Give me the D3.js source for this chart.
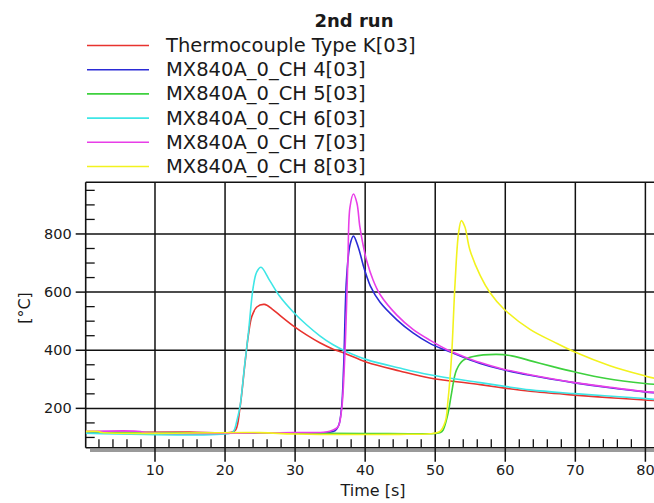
<!DOCTYPE html>
<html>
<head>
<meta charset="utf-8">
<script src="https://cdn.jsdelivr.net/npm/d3@7"></script>
<style>
  html, body { margin: 0; padding: 0; background: #fff; }
  svg { display: block; }
  text { font-family: "DejaVu Sans", Verdana, sans-serif; fill: #1a1a1a; }
</style>
</head>
<body>
<svg id="chart" width="654" height="503"></svg>
<script>
// Temperature traces of the 2nd run, [time s, °C]
const seriesNames = [
  "Thermocouple Type K[03]",
  "MX840A_0_CH 4[03]",
  "MX840A_0_CH 5[03]",
  "MX840A_0_CH 6[03]",
  "MX840A_0_CH 7[03]",
  "MX840A_0_CH 8[03]"
];
const seriesColors = ["#e8332e", "#2b2bd6", "#3ed13e", "#3ee6e6", "#e83ee8", "#f2f21e"];

const thermocoupleK = [[0.2,116],[8,116],[15,117],[21,116],[21.6,125],[22.2,200],[22.9,350],[23.4,450],[23.9,515],[24.6,547],[25.7,556],[26.8,540],[27.9,518],[29.8,482],[31.7,451],[33.6,424],[35.5,402],[37.2,387],[40.3,357],[45,327],[49.3,303],[56.5,280],[60,268],[63.6,257],[70,244],[75,235],[80,227],[81.5,225]];
const ch4 = [[0.2,115],[30,114],[35,116],[35.8,122],[36.3,140],[36.7,200],[37.0,341],[37.4,640],[37.9,760],[38.4,791],[39.1,752],[39.8,690],[40.3,652],[40.8,620],[42.2,563],[44.6,503],[46.9,458],[49.3,422],[51.7,397],[54,375],[56.5,353],[59.8,331],[63.6,312],[70,286],[75,269],[80,255],[81.5,252]];
const ch5 = [[0.2,114],[20,114],[30,113],[40,112],[50,112],[50.8,115],[51.2,124],[51.9,181],[52.4,250],[53.1,330],[54.1,364],[55.5,377],[58.8,384],[61,379],[64,360],[67,341],[69.9,324],[74.5,301],[80,284],[81.5,281]];
const ch6 = [[0.2,113],[20.8,113],[21.3,120],[21.8,160],[22.2,204],[22.9,354],[23.4,457],[24.1,617],[24.6,668],[25.2,684],[26.5,636],[27.9,583],[29.8,530],[31.7,486],[33.6,448],[35.5,417],[37.2,396],[40.3,366],[45,337],[49.3,314],[56.5,287],[60,274],[63.6,262],[70,249],[80,232],[81.5,229]];
const ch7 = [[0.2,119],[8,119],[8.5,115],[30,115],[34.5,117],[35.5,124],[36.2,135],[36.7,192],[37.2,400],[37.6,700],[37.9,890],[38.4,936],[38.9,904],[39.3,825],[39.8,757],[40.3,705],[41.2,640],[42.2,590],[44.6,519],[46.9,470],[49.3,433],[51.7,401],[54,378],[56.5,356],[59.8,333],[63.6,314],[70,287],[75,271],[80,256],[81.5,253]];
const ch8 = [[0.2,119],[2,119],[2.5,115],[25,115],[30,110],[45,109],[49.3,111],[50.7,118],[51.5,152],[51.9,227],[52.4,376],[52.9,628],[53.4,801],[53.8,844],[54.3,823],[55,745],[56.5,655],[57.9,596],[59.8,542],[63.6,470],[67,427],[70,392],[75,345],[80,310],[81.5,301]];
const seriesData = [thermocoupleK, ch4, ch5, ch6, ch7, ch8];

const xMajor = [10, 20, 30, 40, 50, 60, 70, 80];
const xMinor = d3.range(2, 82, 2).filter(v => v % 10 !== 0);
const yMajor = [200, 400, 600, 800];
const yMinor = d3.range(100, 1000, 50).filter(v => v % 200 !== 0);

const svg = d3.select("#chart");
const plot = { left: 85.7, right: 654, top: 182.3, bottom: 447.7 };

const x = d3.scaleLinear().domain([0.18, 81.3]).range([plot.left, plot.right]);
const y = d3.scaleLinear().domain([63, 976]).range([plot.bottom, plot.top]);

// Title and legend
svg.append("text")
  .attr("x", 354).attr("y", 27)
  .attr("text-anchor", "middle")
  .style("font-size", "18px").style("font-weight", "bold")
  .text("2nd run");

const legend = svg.append("g");
seriesNames.forEach((name, i) => {
  const base = 52 + i * 24.2;
  legend.append("line")
    .attr("x1", 87).attr("x2", 149)
    .attr("y1", base - 6.5).attr("y2", base - 6.5)
    .attr("stroke", seriesColors[i]).attr("stroke-width", 1.6);
  legend.append("text")
    .attr("x", 166).attr("y", base)
    .style("font-size", "19.5px")
    .attr("fill", "#222")
    .text(name);
});

// Shadow under the time axis
svg.append("rect")
  .attr("x", 90).attr("y", plot.bottom + 1.3)
  .attr("width", plot.right - 90).attr("height", 3)
  .attr("fill", "#9a9a9a");

// Horizontal grid
const yGrid = svg.append("g")
  .attr("transform", `translate(${plot.left},0)`)
  .call(d3.axisRight(y).tickValues(yMajor).tickSize(plot.right - plot.left).tickFormat(""));
yGrid.select(".domain").remove();
yGrid.selectAll("line").attr("stroke", "#111").attr("stroke-width", 1.5);

// Vertical grid, running a little below the axis
const xGrid = svg.append("g")
  .attr("transform", `translate(0,${plot.top})`)
  .call(d3.axisBottom(x).tickValues(xMajor).tickSize(461.7 - plot.top).tickFormat(""));
xGrid.select(".domain").remove();
xGrid.selectAll("line").attr("stroke", "#111").attr("stroke-width", 1.5);

// Minor ticks
const yMinorAxis = svg.append("g")
  .attr("transform", `translate(${plot.left},0)`)
  .call(d3.axisRight(y).tickValues(yMinor).tickSize(9).tickFormat(""));
yMinorAxis.select(".domain").remove();
yMinorAxis.selectAll("line").attr("stroke", "#111").attr("stroke-width", 1.3);

const xMinorAxis = svg.append("g")
  .attr("transform", `translate(0,${plot.bottom})`)
  .call(d3.axisTop(x).tickValues(xMinor).tickSize(8.5).tickFormat(""));
xMinorAxis.select(".domain").remove();
xMinorAxis.selectAll("line").attr("stroke", "#111").attr("stroke-width", 1.3);

// Labelled axes
const yAxis = svg.append("g")
  .attr("transform", `translate(${plot.left},0)`)
  .call(d3.axisLeft(y).tickValues(yMajor).tickSize(10).tickPadding(4));
yAxis.select(".domain").remove();
yAxis.selectAll("line").attr("stroke", "#111").attr("stroke-width", 1.5);
yAxis.selectAll("text").style("font-size", "14.5px").attr("fill", "#1a1a1a");

const xAxis = svg.append("g")
  .attr("transform", `translate(0,${plot.bottom})`)
  .call(d3.axisBottom(x).tickValues(xMajor).tickSize(14).tickPadding(3));
xAxis.select(".domain").remove();
xAxis.selectAll("line").remove();
xAxis.selectAll("text").style("font-size", "14.5px").attr("fill", "#1a1a1a");

// Frame
const frame = svg.append("g").attr("stroke", "#111").attr("stroke-width", 1.6);
frame.append("line").attr("x1", plot.left).attr("x2", plot.left).attr("y1", plot.top).attr("y2", plot.bottom);
frame.append("line").attr("x1", plot.left).attr("x2", plot.right).attr("y1", plot.top).attr("y2", plot.top);
frame.append("line").attr("x1", plot.left).attr("x2", plot.right).attr("y1", plot.bottom).attr("y2", plot.bottom);

// Axis titles
svg.append("text")
  .attr("x", 373).attr("y", 496)
  .attr("text-anchor", "middle")
  .style("font-size", "16px")
  .text("Time [s]");
svg.append("text")
  .attr("transform", "translate(30,308) rotate(-90)")
  .attr("text-anchor", "middle")
  .style("font-size", "16px")
  .text("[°C]");

// Traces
svg.append("clipPath").attr("id", "plot-clip")
  .append("rect")
  .attr("x", plot.left).attr("y", plot.top)
  .attr("width", plot.right - plot.left).attr("height", plot.bottom - plot.top);

const line = d3.line()
  .x(d => x(d[0]))
  .y(d => y(d[1]))
  .curve(d3.curveCatmullRom.alpha(0.5));

svg.append("g").attr("clip-path", "url(#plot-clip)")
  .selectAll("path")
  .data(seriesData)
  .join("path")
  .attr("d", line)
  .attr("fill", "none")
  .attr("stroke", (d, i) => seriesColors[i])
  .attr("stroke-width", 1.6);
</script>
</body>
</html>
